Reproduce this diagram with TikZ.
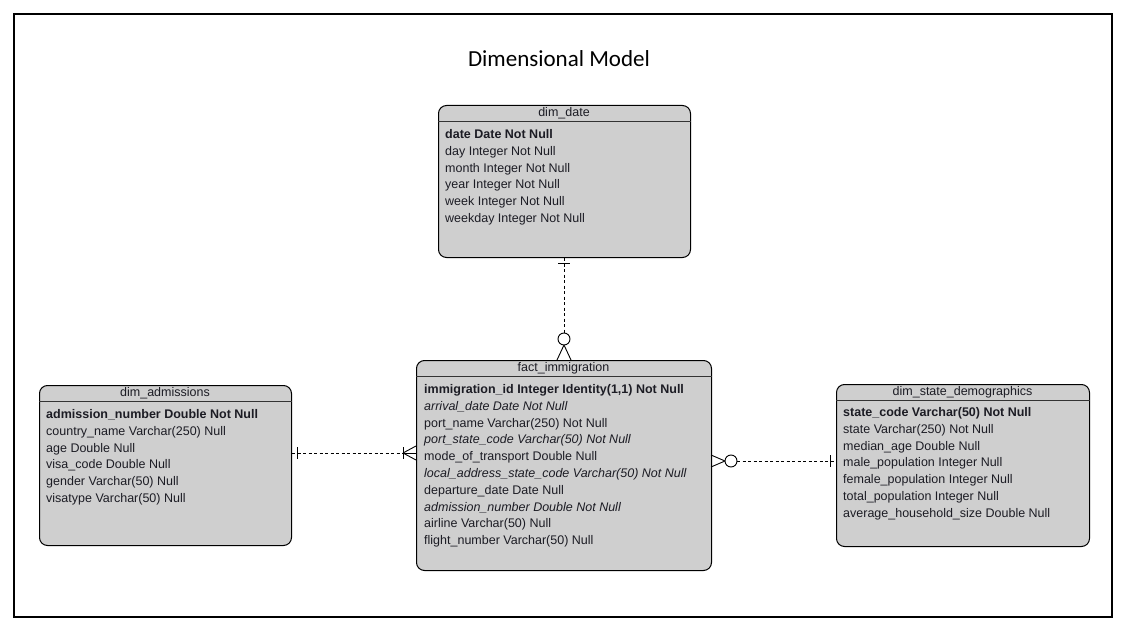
\documentclass[tikz,border=0pt]{standalone}
\usepackage{fontspec}
\setmainfont{Liberation Sans}
\newfontfamily\titlefont{Carlito}
\definecolor{tblgray}{RGB}{207,207,207}
\definecolor{txt}{RGB}{28,28,36}
\tikzset{
  tbl/.style={draw=black, line width=1pt, fill=tblgray, rounded corners=8pt, inner sep=0pt, anchor=north west},
  hdr/.style={font=\fontsize{12.5}{14}\selectfont, text=txt, inner sep=0pt},
  row/.style={font=\fontsize{12.5}{14}\selectfont, text=txt, inner sep=0pt, anchor=base west},
  hline/.style={line width=1pt, draw=black!80},
  conn/.style={line width=0.9pt, dash pattern=on 3pt off 2.5pt},
  ersym/.style={line width=0.9pt},
  ercircle/.style={line width=0.9pt, fill=white},
}
\begin{document}
\begin{tikzpicture}[x=1pt,y=-1pt]
\useasboundingbox (0,0) rectangle (1128,634);
\fill[white] (0,0) rectangle (1128,634);
\draw[line width=1.2pt] (14,14) rectangle (1112,617);
\node[font=\titlefont\fontsize{23}{26}\selectfont, inner sep=0pt] (title) at (559,59) {Dimensional Model};

% dim_date
\node[tbl, minimum width=252pt, minimum height=152pt] (date) at (438,105) {};
\draw[hline] (date.west |- 0,121) -- (date.east |- 0,121);
\node[hdr] (dateh) at (564,113) {dim\_date};
\foreach \t [count=\i from 0] in {{\textbf{date Date Not Null}},{day Integer Not Null},{month Integer Not Null},{year Integer Not Null},{week Integer Not Null},{weekday Integer Not Null}}
  \node[row] (date-\i) at (445,{138.5+\i*16.8}) {\t};

% fact_immigration
\node[tbl, minimum width=295pt, minimum height=210pt] (fact) at (416,360) {};
\draw[hline] (fact.west |- 0,376) -- (fact.east |- 0,376);
\node[hdr] (facth) at (563.5,368) {fact\_immigration};
\foreach \t [count=\i from 0] in {{\textbf{immigration\_id Integer Identity(1,1) Not Null}},{\textit{arrival\_date Date Not Null}},{port\_name Varchar(250) Not Null},{\textit{port\_state\_code Varchar(50) Not Null}},{mode\_of\_transport Double Null},{\textit{local\_address\_state\_code Varchar(50) Not Null}},{departure\_date Date Null},{\textit{admission\_number Double Not Null}},{airline Varchar(50) Null},{flight\_number Varchar(50) Null}}
  \node[row] (fact-\i) at (424,{393.5+\i*16.8}) {\t};

% dim_admissions
\node[tbl, minimum width=252pt, minimum height=160pt] (adm) at (39,385) {};
\draw[hline] (adm.west |- 0,401) -- (adm.east |- 0,401);
\node[hdr] (admh) at (165,393) {dim\_admissions};
\foreach \t [count=\i from 0] in {{\textbf{admission\_number Double Not Null}},{country\_name Varchar(250) Null},{age Double Null},{visa\_code Double Null},{gender Varchar(50) Null},{visatype Varchar(50) Null}}
  \node[row] (adm-\i) at (46,{418.5+\i*16.8}) {\t};

% dim_state_demographics
\node[tbl, minimum width=253pt, minimum height=162pt] (state) at (836,384) {};
\draw[hline] (state.west |- 0,400) -- (state.east |- 0,400);
\node[hdr] (stateh) at (962.5,392) {dim\_state\_demographics};
\foreach \t [count=\i from 0] in {{\textbf{state\_code Varchar(50) Not Null}},{state Varchar(250) Not Null},{median\_age Double Null},{male\_population Integer Null},{female\_population Integer Null},{total\_population Integer Null},{average\_household\_size Double Null}}
  \node[row] (state-\i) at (843,{416.5+\i*16.8}) {\t};

% connector dim_date -> fact
\coordinate (c1) at (564,339);
\draw[conn] (date.south -| c1) -- (564,333);
\draw[ersym] (558,263) -- (570,263);
\draw[ercircle] (c1) circle (6);
\draw[ersym] (564,345) -- (557,360) (564,345) -- (571,360);

% connector dim_admissions -> fact
\coordinate (c2) at (403,453);
\draw[conn] (adm.east |- c2) -- (c2);
\draw[ersym] (297,447) -- (297,459);
\draw[ersym] (403,447) -- (403,459);
\draw[ersym] (c2) -- (fact.west |- c2);
\draw[ersym] (c2) -- (416,446) (c2) -- (416,460);

% connector fact -> dim_state_demographics
\coordinate (c3) at (731,461);
\draw[conn] (737,461) -- (state.west |- c3);
\draw[ersym] (711,455) -- (725,461) -- (711,467);
\draw[ercircle] (c3) circle (6);
\draw[ersym] (830,455) -- (830,467);
\end{tikzpicture}
\end{document}
